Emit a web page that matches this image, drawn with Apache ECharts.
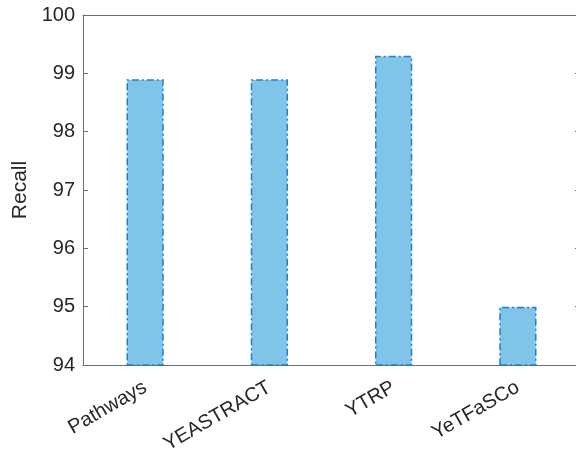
<!DOCTYPE html>
<html>
<head>
<meta charset="utf-8">
<script src="https://cdn.jsdelivr.net/npm/echarts@6/dist/echarts.min.js"></script>
<style>
  html, body { margin: 0; padding: 0; background: #fff; }
  #chart { width: 576px; height: 455px; }
</style>
</head>
<body>
<div id="chart"></div>
<script>
// Recall per database
const categories = ['Pathways', 'YEASTRACT', 'YTRP', 'YeTFaSCo'];
const recall = [98.9, 98.9, 99.3, 95.0];
const yTicks = { min: 94, max: 100, interval: 1 };

const textColor = '#262626';
const lineColor = '#6e6e6e';
const font = '"Liberation Sans", Arial, Helvetica, sans-serif';

const chart = echarts.init(document.getElementById('chart'), null, { renderer: 'canvas' });

chart.setOption({
  animation: false,
  grid: {
    left: 83, top: 15, width: 497, height: 350,
    containLabel: false, outerBoundsMode: 'none'
  },
  xAxis: [
    {
      type: 'category',
      data: categories,
      position: 'bottom',
      axisLine: { lineStyle: { color: lineColor, width: 1 } },
      axisTick: { inside: true, length: 5, alignWithLabel: true, lineStyle: { color: lineColor } },
      axisLabel: {
        rotate: 30, color: textColor, fontFamily: font, fontSize: 20, margin: 21
      }
    },
    {
      type: 'category',
      data: categories,
      position: 'top',
      axisLine: { show: true, lineStyle: { color: lineColor, width: 1 } },
      axisTick: { inside: true, length: 5, alignWithLabel: true, lineStyle: { color: lineColor } },
      axisLabel: { show: false }
    }
  ],
  yAxis: [
    {
      type: 'value',
      min: yTicks.min, max: yTicks.max, interval: yTicks.interval,
      name: 'Recall',
      nameLocation: 'middle',
      nameGap: 50,
      nameRotate: 90,
      nameTextStyle: { color: textColor, fontFamily: font, fontSize: 21 },
      axisLine: { show: true, lineStyle: { color: lineColor, width: 1 } },
      axisTick: { show: true, inside: true, length: 5, lineStyle: { color: lineColor } },
      axisLabel: { color: textColor, fontFamily: font, fontSize: 20, margin: 8 },
      splitLine: { show: false }
    },
    {
      type: 'value',
      position: 'right',
      min: yTicks.min, max: yTicks.max, interval: yTicks.interval,
      axisLine: { show: true, lineStyle: { color: lineColor, width: 1 } },
      axisTick: { show: true, inside: true, length: 5, lineStyle: { color: lineColor } },
      axisLabel: { show: false },
      splitLine: { show: false }
    }
  ],
  series: [
    {
      type: 'bar',
      data: recall,
      xAxisIndex: 0,
      yAxisIndex: 0,
      barWidth: '30%',
      itemStyle: {
        color: '#80c4ea',
        borderColor: '#1f7fcc',
        borderWidth: 1.5,
        borderType: [7, 3, 2, 3]
      }
    }
  ]
});
</script>
</body>
</html>
